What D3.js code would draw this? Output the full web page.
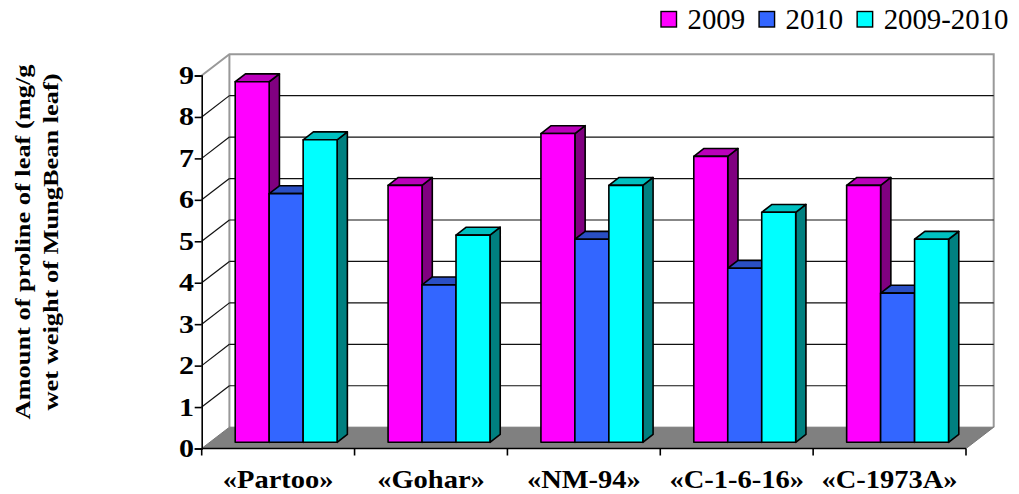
<!DOCTYPE html>
<html>
<head>
<meta charset="utf-8">
<script src="https://cdn.jsdelivr.net/npm/d3@7"></script>
<style>
  body { margin: 0; background: #fff; }
</style>
</head>
<body>
<svg id="chart" width="1019" height="494" font-family="Liberation Serif, DejaVu Serif, serif"></svg>
<script>
// Proline content of mung bean leaves by cultivar and season
const categories = ["«Partoo»", "«Gohar»", "«NM-94»", "«C-1-6-16»", "«C-1973A»"];
const seriesNames = ["2009", "2010", "2009-2010"];
const values2009 = [8.7, 6.2, 7.45, 6.9, 6.2];
const values2010 = [6.0, 3.8, 4.9, 4.2, 3.6];
const values20092010 = [7.3, 5.0, 6.2, 5.55, 4.9];
const yTicks = [0, 1, 2, 3, 4, 5, 6, 7, 8, 9];
const yTitleLines = ["Amount of proline of leaf (mg/g", "wet weight of MungBean leaf)"];

const seriesValues = [values2009, values2010, values20092010];
const faceColors = ["#FF00FF", "#3366FF", "#00FFFF"];
const topColors  = ["#BB00BB", "#2A4FC4", "#00C0C0"];
const sideColors = ["#800080", "#2244AA", "#008080"];

const svg = d3.select("#chart");

// plot frame (front plane) and depth projection
const x0 = 201.7, x1 = 966, yBase = 448.5, yTop = 75.5;
const DX = 27.7, DY = -21.3;          // full depth offset of the back wall
const barFront = 0.29, barDepth = 0.37; // bar depth placement, fraction of full depth

const y = d3.scaleLinear().domain([0, 9]).range([yBase, yTop]);
const xBand = d3.scaleBand().domain(categories).range([x0, x1])
  .paddingInner(1 / 3).paddingOuter(1 / 6);
const xSub = d3.scaleBand().domain(seriesNames).range([0, xBand.bandwidth()]);

const pts = a => a.map(p => p.join(",")).join(" ");

// walls
const walls = svg.append("g");
walls.append("polygon") // left wall
  .attr("points", pts([[x0, yBase], [x0, y(9)], [x0 + DX, y(9) + DY], [x0 + DX, yBase + DY]]))
  .attr("fill", "#fff");
walls.append("rect") // back wall
  .attr("x", x0 + DX).attr("y", y(9) + DY)
  .attr("width", x1 - x0).attr("height", y(0) - y(9))
  .attr("fill", "#fff");

// gridlines on back and left walls
const grid = svg.append("g");
yTicks.filter(v => v > 0 && v < 9).forEach(v => {
  grid.append("line")
    .attr("x1", x0 + DX).attr("x2", x1 + DX)
    .attr("y1", y(v) + DY).attr("y2", y(v) + DY)
    .attr("stroke", "#111").attr("stroke-width", 1.2);
  grid.append("line")
    .attr("x1", x0).attr("x2", x0 + DX)
    .attr("y1", y(v)).attr("y2", y(v) + DY)
    .attr("stroke", "#111").attr("stroke-width", 1.2);
});

// wall borders
walls.append("polyline")
  .attr("points", pts([[x0, y(9)], [x0 + DX, y(9) + DY], [x1 + DX, y(9) + DY], [x1 + DX, yBase + DY]]))
  .attr("fill", "none").attr("stroke", "#999").attr("stroke-width", 2);
walls.append("line")
  .attr("x1", x0 + DX).attr("x2", x0 + DX)
  .attr("y1", y(9) + DY).attr("y2", yBase + DY)
  .attr("stroke", "#999").attr("stroke-width", 2);

// floor
svg.append("polygon")
  .attr("points", pts([[x0, yBase], [x1, yBase], [x1 + DX, yBase + DY], [x0 + DX, yBase + DY]]))
  .attr("fill", "#808080").attr("stroke", "#777").attr("stroke-width", 1);

// bars
const bars = svg.append("g")
  .attr("stroke", "#000").attr("stroke-width", 1.6).attr("stroke-linejoin", "round");
categories.forEach((c, i) => {
  seriesNames.forEach((s, j) => {
    const v = seriesValues[j][i];
    const w = xSub.bandwidth();
    const xl = xBand(c) + xSub(s) + barFront * DX;
    const yt = y(v) + barFront * DY;
    const yb = y(0) + barFront * DY;
    const dx = barDepth * DX, dy = barDepth * DY;
    bars.append("polygon") // side
      .attr("points", pts([[xl + w, yt], [xl + w + dx, yt + dy], [xl + w + dx, yb + dy], [xl + w, yb]]))
      .attr("fill", sideColors[j]);
    bars.append("polygon") // top
      .attr("points", pts([[xl, yt], [xl + w, yt], [xl + w + dx, yt + dy], [xl + dx, yt + dy]]))
      .attr("fill", topColors[j]);
    bars.append("rect") // front
      .attr("x", xl).attr("y", yt)
      .attr("width", w).attr("height", yb - yt)
      .attr("fill", faceColors[j]);
  });
});

// y axis
const yAxis = svg.append("g")
  .attr("transform", `translate(${x0},0)`)
  .call(d3.axisLeft(y).tickValues(yTicks).tickSize(7).tickFormat(""));
yAxis.selectAll("path, line").attr("stroke", "#000").attr("stroke-width", 1.6);
yTicks.forEach(v => {
  svg.append("text")
    .attr("transform", `translate(194,${y(v) + 8.5}) scale(1.2,1)`)
    .attr("text-anchor", "end")
    .attr("font-family", "Liberation Serif, DejaVu Serif, serif")
    .attr("font-size", 25).attr("font-weight", "bold")
    .text(v);
});

// x axis with ticks at category boundaries
const step = xBand.step();
const boundaries = d3.range(categories.length + 1).map(k => x0 + k * step);
svg.append("line")
  .attr("x1", x0).attr("x2", x1).attr("y1", yBase).attr("y2", yBase)
  .attr("stroke", "#000").attr("stroke-width", 1.6);
boundaries.forEach(bx => {
  svg.append("line")
    .attr("x1", bx).attr("x2", bx).attr("y1", yBase).attr("y2", yBase + 7)
    .attr("stroke", "#000").attr("stroke-width", 1.6);
});
categories.forEach(c => {
  const cx = xBand(c) + xBand.bandwidth() / 2;
  svg.append("text")
    .attr("transform", `translate(${cx},487.7) scale(1.14,1)`)
    .attr("text-anchor", "middle")
    .attr("font-family", "Liberation Serif, DejaVu Serif, serif")
    .attr("font-size", 25).attr("font-weight", "bold")
    .text(c);
});

// y axis title
yTitleLines.forEach((line, k) => {
  svg.append("text")
    .attr("transform", `translate(${30 + k * 28},242) rotate(-90) scale(1.2,1)`)
    .attr("text-anchor", "middle")
    .attr("font-family", "Liberation Serif, DejaVu Serif, serif")
    .attr("font-size", 22).attr("font-weight", "bold")
    .text(line);
});

// legend
const legend = svg.append("g");
let lx = 661;
seriesNames.forEach((s, j) => {
  legend.append("rect")
    .attr("x", lx).attr("y", 11.5).attr("width", 15.5).attr("height", 15.5)
    .attr("fill", faceColors[j]).attr("stroke", "#000").attr("stroke-width", 1.4);
  const t = legend.append("text")
    .attr("transform", `translate(${lx + 26.5},29.3) scale(0.96,1)`)
    .attr("font-family", "Liberation Serif, DejaVu Serif, serif")
    .attr("font-size", 30)
    .text(s);
  lx = lx + 26.5 + t.node().getComputedTextLength() * 0.96 + 14;
});
</script>
</body>
</html>
